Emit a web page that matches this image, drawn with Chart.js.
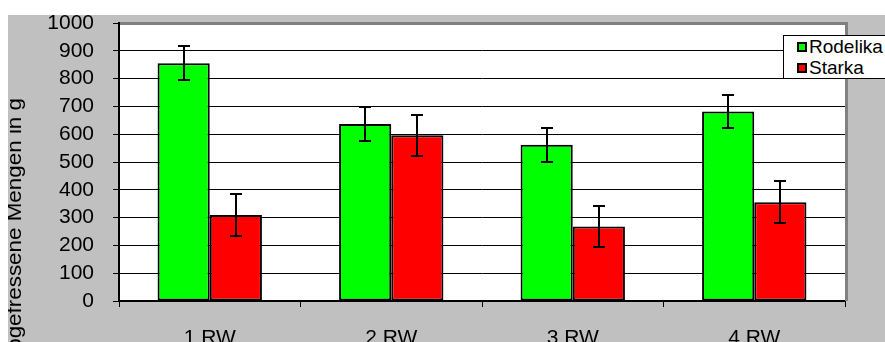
<!DOCTYPE html>
<html><head>
<meta charset="UTF-8">
<title>Gefressene Mengen</title>
<script src="https://cdn.jsdelivr.net/npm/chart.js@4.4.7/dist/chart.umd.min.js"></script>
<style>
*{margin:0;padding:0;box-sizing:border-box}
html,body{width:885px;height:342px;background:#fff;overflow:hidden;font-family:"Liberation Sans",Arial,sans-serif}
.p{position:absolute;left:8px;top:15px;width:900px;height:360px;background:#c0c0c0}
.lg{position:absolute;left:783px;top:35px;width:130px;height:44px;background:#fff;border:1px solid #000;padding:0 0 0 13px}
.li{display:flex;align-items:center;height:21px;font-size:19px;color:#000;white-space:nowrap}
.sw{width:10px;height:10px;border:2px solid #000;margin-right:2px;flex:none}
</style></head><body>
<div class="p"><canvas id="ch" width="900" height="360"></canvas></div>
<div class="lg" id="lg"></div>
<script>
var categories = ['1 RW', '2 RW', '3 RW', '4 RW'];
var rodelika = [855, 637, 562, 682];
var rodelikaErr = [61, 62, 62, 60];
var starka = [309, 596, 268, 355];
var starkaErr = [75, 74, 72, 75];
var yMin = 0, yMax = 1000, yStep = 100;
var axisTitle = 'Abgefressene Mengen in g';

var FONT = '"Liberation Sans", Arial, sans-serif';

// white plot area, grey frame on top/right
var plotArea = {
  id: 'plotArea',
  beforeDraw: function(c) {
    var a = c.chartArea, ctx = c.ctx;
    ctx.save();
    ctx.fillStyle = '#fff';
    ctx.fillRect(a.left, a.top, a.right - a.left, a.bottom - a.top);
    ctx.restore();
  },
  afterDraw: function(c) {
    var a = c.chartArea, ctx = c.ctx;
    ctx.save();
    ctx.strokeStyle = '#808080';
    ctx.lineWidth = 3;
    ctx.beginPath();
    ctx.moveTo(a.left + 1, a.top + 0.5);
    ctx.lineTo(a.right + 1.5, a.top + 0.5);
    ctx.lineTo(a.right + 1.5, a.bottom);
    ctx.stroke();
    ctx.restore();
  }
};

var errorBars = {
  id: 'errorBars',
  afterDatasetsDraw: function(c) {
    var ctx = c.ctx, y = c.scales.y;
    ctx.save();
    ctx.strokeStyle = '#000';
    ctx.lineWidth = 2;
    c.data.datasets.forEach(function(ds, i) {
      c.getDatasetMeta(i).data.forEach(function(bar, j) {
        var v = ds.data[j], e = ds.errors[j];
        var t = Math.round(y.getPixelForValue(v + e));
        var b = Math.round(y.getPixelForValue(v - e));
        var x = Math.round(bar.x);
        ctx.beginPath();
        ctx.moveTo(x, t); ctx.lineTo(x, b);
        ctx.moveTo(x - 6, t); ctx.lineTo(x + 6, t);
        ctx.moveTo(x - 6, b); ctx.lineTo(x + 6, b);
        ctx.stroke();
      });
    });
    ctx.restore();
  }
};

var yTitle = {
  id: 'yTitle',
  afterDraw: function(c) {
    var ctx = c.ctx;
    ctx.save();
    ctx.translate(13, 83);
    ctx.rotate(-Math.PI / 2);
    ctx.scale(1.12, 1);
    ctx.font = '20px ' + FONT;
    ctx.fillStyle = '#000';
    ctx.textAlign = 'right';
    ctx.textBaseline = 'alphabetic';
    ctx.fillText(axisTitle, 0, 0);
    ctx.restore();
  }
};

var chart = new Chart(document.getElementById('ch'), {
  type: 'bar',
  data: {
    labels: categories,
    datasets: [
      { label: 'Rodelika', data: rodelika, errors: rodelikaErr, backgroundColor: '#00ff00', borderColor: '#000', borderWidth: 2, borderSkipped: false },
      { label: 'Starka', data: starka, errors: starkaErr, backgroundColor: '#ff0000', borderColor: '#000', borderWidth: 2, borderSkipped: false }
    ]
  },
  options: {
    responsive: false,
    animation: false,
    devicePixelRatio: 1,
    layout: { padding: { top: 8, right: 63, left: 0, bottom: 0 } },
    datasets: { bar: { categoryPercentage: 0.575, barPercentage: 1 } },
    plugins: { legend: { display: false }, tooltip: { enabled: false } },
    scales: {
      x: {
        grid: { display: true, offset: true, drawOnChartArea: false, drawTicks: true, tickLength: 6, color: '#000', lineWidth: 1 },
        border: { display: true, color: '#000', width: 2 },
        ticks: { color: '#000', padding: 19, autoSkip: false, font: { family: FONT, size: 21 } },
        afterFit: function(s) { s.height = 74; s.paddingLeft = 0; s.paddingRight = 0; }
      },
      y: {
        min: yMin, max: yMax,
        grid: { color: '#000', lineWidth: 1, tickLength: 6, drawTicks: true },
        border: { display: true, color: '#000', width: 2 },
        ticks: {
          stepSize: yStep, autoSkip: false, color: '#000', padding: 19,
          font: { family: FONT, size: 21 },
          callback: function(v) { return String(v); }
        },
        afterFit: function(s) { s.width = 111; s.paddingTop = 0; s.paddingBottom = 0; }
      }
    }
  },
  plugins: [plotArea, errorBars, yTitle]
});

// legend as html, from the chart's datasets
document.getElementById('lg').innerHTML = chart.data.datasets.map(function(ds) {
  return '<div class="li"><span class="sw" style="background:' + ds.backgroundColor + '"></span>' + ds.label + '</div>';
}).join('');
</script>
</body></html>
